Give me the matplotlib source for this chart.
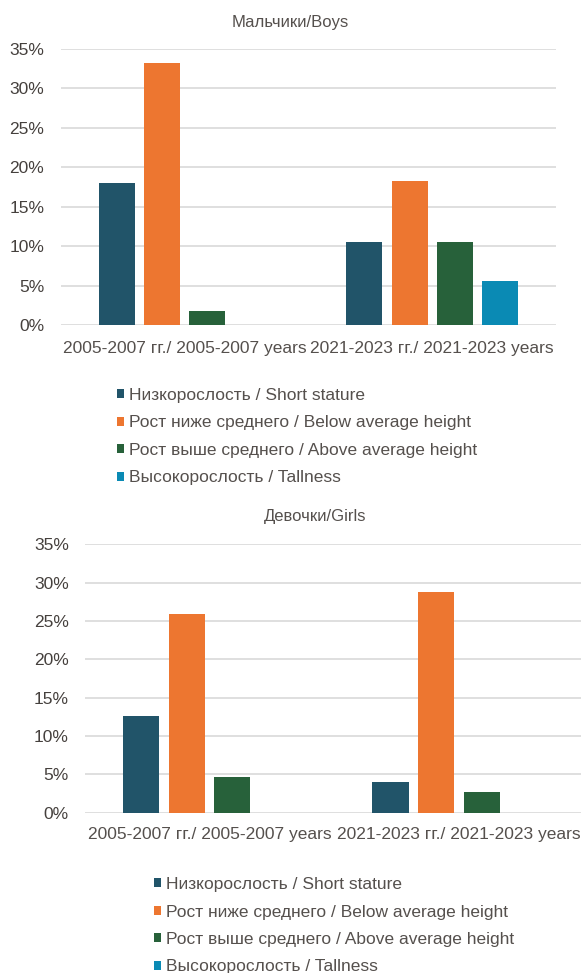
import matplotlib
matplotlib.use("Agg")
import matplotlib.pyplot as plt
import numpy as np

plt.rcParams['font.family'] = ['Liberation Sans', 'DejaVu Sans']

# data
periods = ["2005-2007 гг./ 2005-2007 years", "2021-2023 гг./ 2021-2023 years"]
series_names = ["Низкорослость / Short stature",
                "Рост ниже среднего / Below average height",
                "Рост выше среднего / Above average height",
                "Высокорослость / Tallness"]
boys = [
    [18.0, 10.5],   # short stature
    [33.2, 18.3],   # below average
    [1.8, 10.5],    # above average
    [0.0, 5.6],     # tallness
]
girls = [
    [12.6, 4.0],
    [25.9, 28.8],
    [4.6, 2.7],
    [0.0, 0.0],
]
colors = ["#215469", "#ED7630", "#27613A", "#0A8AB4"]
yticks = [0, 5, 10, 15, 20, 25, 30, 35]

txt = "#55504D"
tick_col = "#45403D"
grid_col = "#D9D9D9"
fs = 12.5

fig = plt.figure(figsize=(5.81, 9.73), dpi=100)
W, H = 581.0, 973.0


def make_ax(x0, x1, y0, y35):
    return fig.add_axes([x0 / W, 1 - y0 / H, (x1 - x0) / W, (y0 - y35) / H])


def draw(ax, data, xpad, ypad):
    x = np.arange(len(periods))
    step = 0.183
    width = 0.145
    handles = []
    for i, vals in enumerate(data):
        b = ax.bar(x + (i - 1.5) * step, vals, width, color=colors[i],
                   label=series_names[i], zorder=3)
        handles.append(b)
    ax.set_xlim(-0.5, 1.5)
    ax.set_ylim(0, 35)
    ax.set_yticks(yticks)
    ax.set_yticklabels([f"{v}%" for v in yticks])
    ax.set_xticks(x)
    ax.set_xticklabels(periods)
    ax.yaxis.grid(True, color=grid_col, linewidth=1.2, zorder=0)
    ax.set_axisbelow(True)
    for s in ax.spines.values():
        s.set_visible(False)
    ax.tick_params(axis='both', length=0, labelsize=fs)
    ax.tick_params(axis='y', pad=ypad, labelcolor=tick_col)
    ax.tick_params(axis='x', pad=xpad, labelcolor=txt)
    return handles


ax1 = make_ax(61, 556, 325, 49)
h1 = draw(ax1, boys, 11.5, 12)
fig.text(290 / W, 1 - 22 / H, "Мальчики/Boys", ha='center', va='center',
         color=txt, fontsize=fs - 0.5)

ax2 = make_ax(84.75, 583.75, 812.7, 544.3)
h2 = draw(ax2, girls, 10, 11.5)
fig.text(315.6 / W, 1 - 517 / H, "Девочки/Girls", ha='center', va='center',
         color=txt, fontsize=fs - 0.5)

for handles, (lx, ly) in [(h1, (117, 388)), (h2, (153.7, 877))]:
    fig.legend(handles=handles, loc='upper left',
               bbox_to_anchor=(lx / W, 1 - ly / H), frameon=False,
               fontsize=fs, labelcolor=txt, handlelength=0.43,
               handleheight=0.43, handletextpad=0.25, labelspacing=0.72,
               borderpad=0, borderaxespad=0)

fig.savefig("out.png", dpi=100)
